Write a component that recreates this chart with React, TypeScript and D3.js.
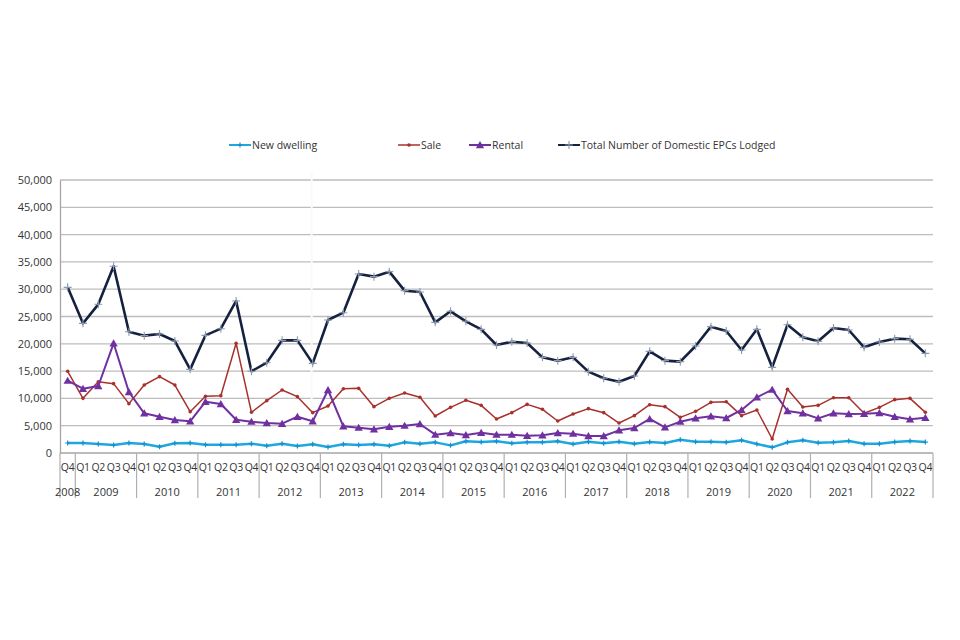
import React, { useEffect, useRef } from 'react';
import * as d3 from 'd3';

// quarters: 2008 Q4 then every quarter 2009-2022
const years = ['2008', '2009', '2010', '2011', '2012', '2013', '2014', '2015', '2016', '2017', '2018', '2019', '2020', '2021', '2022'];
const quarterNames = ['Q1', 'Q2', 'Q3', 'Q4'];
const yTicks = [0, 5000, 10000, 15000, 20000, 25000, 30000, 35000, 40000, 45000, 50000];

const newDwelling = [
  1830,
  1830, 1650, 1470, 1830,
  1650, 1160, 1770, 1830,
  1530, 1530, 1530, 1710,
  1340, 1710, 1280, 1590,
  1100, 1590, 1470, 1590,
  1340, 1950, 1710, 1950,
  1400, 2140, 2010, 2140,
  1770, 1950, 1950, 2140,
  1650, 2080, 1770, 2080,
  1710, 2010, 1830, 2440,
  2080, 2080, 1950, 2320,
  1650, 1040, 1950, 2320,
  1890, 1950, 2200, 1710,
  1710, 2010, 2200, 2010,
];

const sale = [
  14960,
  10010, 13060, 12700, 9040,
  12450, 13980, 12450, 7570,
  10380, 10500, 20090, 7450,
  9590, 11540, 10320, 7390,
  8610, 11780, 11840, 8490,
  10010, 10990, 10200, 6780,
  8360, 9650, 8730, 6230,
  7390, 8910, 8000, 5860,
  7140, 8120, 7390, 5490,
  6840, 8850, 8490, 6530,
  7630, 9280, 9400, 6840,
  7880, 2560, 11660, 8420,
  8730, 10130, 10130, 7270,
  8360, 9770, 10010, 7450,
];

const rental = [
  13250,
  11780, 12270, 20090, 11170,
  7270, 6650, 6040, 5800,
  9400, 8970, 6100, 5740,
  5490, 5370, 6650, 5800,
  11540, 4880, 4640, 4330,
  4820, 5010, 5310, 3360,
  3660, 3300, 3720, 3360,
  3360, 3170, 3240, 3660,
  3540, 3110, 3110, 4150,
  4580, 6230, 4700, 5740,
  6350, 6720, 6410, 7880,
  10200, 11600, 7690, 7270,
  6350, 7270, 7140, 7200,
  7330, 6650, 6170, 6470,
];

const total = [
  30340,
  23750, 27230, 34200, 22220,
  21490, 21800, 20510, 15320,
  21550, 22770, 27840, 14960,
  16540, 20630, 20630, 16420,
  24360, 25700, 32780, 32300,
  33210, 29730, 29490, 23930,
  25950, 24120, 22650, 19780,
  20390, 20150, 17520, 16910,
  17520, 14900, 13680, 13060,
  14100, 18620, 16910, 16730,
  19600, 23140, 22340, 18860,
  22650, 15690, 23500, 21190,
  20450, 22890, 22530, 19350,
  20330, 20940, 20820, 18250,
];

type Marker = 'plus' | 'dot' | 'triangle' | 'cross';

interface Series {
  name: string;
  values: number[];
  color: string;
  width: number;
  marker: Marker;
  markerColor: string;
}

const series: Series[] = [
  { name: 'New dwelling', values: newDwelling, color: '#1ea7e1', width: 2.5, marker: 'plus', markerColor: '#1590c8' },
  { name: 'Sale', values: sale, color: '#a8312c', width: 1.5, marker: 'dot', markerColor: '#a8312c' },
  { name: 'Rental', values: rental, color: '#7030a0', width: 2, marker: 'triangle', markerColor: '#7030a0' },
  { name: 'Total Number of Domestic EPCs Lodged', values: total, color: '#15213f', width: 2.6, marker: 'cross', markerColor: '#8c9ab0' },
];

const FONT = '"Open Sans", Lato, sans-serif';

const App: React.FC = () => {
  const svgRef = useRef<SVGSVGElement>(null);

  useEffect(() => {
    if (!svgRef.current) return;

    const width = 960;
    const height = 640;
    const plot = { left: 60, right: 933, top: 180, bottom: 453 };

    // category list built from years / quarter names
    const cats: { year: string; q: string }[] = [{ year: years[0], q: 'Q4' }];
    years.slice(1).forEach(y => quarterNames.forEach(q => cats.push({ year: y, q })));

    const svg = d3.select(svgRef.current)
      .attr('width', width)
      .attr('height', height)
      .html('');

    svg.append('rect').attr('width', width).attr('height', height).attr('fill', '#fff');

    const x = d3.scaleBand<number>()
      .domain(d3.range(cats.length))
      .range([plot.left, plot.right])
      .padding(0);
    const cx = (i: number) => (x(i) as number) + x.bandwidth() / 2;

    const y = d3.scaleLinear()
      .domain([0, 50000])
      .range([plot.bottom, plot.top]);

    // gridlines
    svg.append('g')
      .selectAll('line')
      .data(yTicks.filter(t => t > 0))
      .join('line')
      .attr('x1', plot.left)
      .attr('x2', plot.right)
      .attr('y1', d => y(d))
      .attr('y2', d => y(d))
      .attr('stroke', '#bdbdbd')
      .attr('stroke-width', 1.3);

    // faint white seam in the original image
    svg.append('line')
      .attr('x1', cx(16) - 1).attr('x2', cx(16) - 1)
      .attr('y1', plot.top - 8).attr('y2', plot.bottom - 45)
      .attr('stroke', '#fafafa').attr('stroke-width', 2);

    // y axis
    const yAxis = d3.axisLeft(y)
      .tickValues(yTicks)
      .tickSize(0)
      .tickPadding(8)
      .tickFormat(d => d3.format(',')(d as number));
    const yg = svg.append('g')
      .attr('transform', `translate(${plot.left},0)`)
      .call(yAxis);
    yg.select('.domain').attr('stroke', '#a6a6a6').attr('stroke-width', 1.3);
    yg.selectAll('text')
      .attr('font-family', FONT)
      .attr('font-size', 11)
      .attr('fill', '#333');

    // x axis (two-level categories)
    const xg = svg.append('g');
    xg.append('line')
      .attr('x1', plot.left).attr('x2', plot.right)
      .attr('y1', plot.bottom).attr('y2', plot.bottom)
      .attr('stroke', '#a6a6a6').attr('stroke-width', 1.3);

    xg.selectAll('text.q')
      .data(cats)
      .join('text')
      .attr('class', 'q')
      .attr('x', (_, i) => cx(i))
      .attr('y', 471)
      .attr('text-anchor', 'middle')
      .attr('font-family', FONT)
      .attr('font-size', 10.5)
      .attr('letter-spacing', -0.3)
      .attr('fill', '#333')
      .text(d => d.q);

    const groups = years.map(yr => {
      const idx = cats.map((c, i) => (c.year === yr ? i : -1)).filter(i => i >= 0);
      return { year: yr, first: idx[0], last: idx[idx.length - 1] };
    });

    // separators between years
    const seps = [plot.left, ...groups.map(g => (x(g.last) as number) + x.bandwidth())];
    xg.selectAll('line.sep')
      .data(seps)
      .join('line')
      .attr('class', 'sep')
      .attr('x1', d => d).attr('x2', d => d)
      .attr('y1', plot.bottom).attr('y2', 498)
      .attr('stroke', '#b0b0b0').attr('stroke-width', 1.2);

    xg.selectAll('text.yr')
      .data(groups)
      .join('text')
      .attr('class', 'yr')
      .attr('x', g => (cx(g.first) + cx(g.last)) / 2)
      .attr('y', 496)
      .attr('text-anchor', 'middle')
      .attr('font-family', FONT)
      .attr('font-size', 11)
      .attr('fill', '#333')
      .text(g => g.year);

    // marker drawing helper
    const drawMarker = (g: d3.Selection<SVGGElement, unknown, null, undefined>, m: Marker, px: number, py: number, color: string) => {
      if (m === 'plus') {
        g.append('path')
          .attr('d', `M${px - 2.5},${py}H${px + 2.5}M${px},${py - 2.5}V${py + 2.5}`)
          .attr('stroke', color).attr('stroke-width', 1.2);
      } else if (m === 'dot') {
        g.append('circle').attr('cx', px).attr('cy', py).attr('r', 1.8).attr('fill', color);
      } else if (m === 'triangle') {
        g.append('path')
          .attr('d', d3.symbol(d3.symbolTriangle, 30)())
          .attr('transform', `translate(${px},${py + 0.8})`)
          .attr('fill', color);
      } else {
        g.append('path')
          .attr('d', `M${px - 4},${py}H${px + 4}M${px},${py - 4}V${py + 4}`)
          .attr('stroke', color).attr('stroke-width', 1.1);
      }
    };

    const line = d3.line<number>()
      .x((_, i) => cx(i))
      .y(d => y(d));

    series.forEach(s => {
      const g = svg.append('g');
      g.append('path')
        .datum(s.values)
        .attr('fill', 'none')
        .attr('stroke', s.color)
        .attr('stroke-width', s.width)
        .attr('stroke-linejoin', 'round')
        .attr('d', line);
      s.values.forEach((v, i) => drawMarker(g as any, s.marker, cx(i), y(v), s.markerColor));
    });

    // legend
    const legendX = [229, 398, 469, 558];
    series.forEach((s, k) => {
      const g = svg.append('g');
      const lx = legendX[k];
      const ly = 145;
      g.append('line')
        .attr('x1', lx).attr('x2', lx + 22)
        .attr('y1', ly).attr('y2', ly)
        .attr('stroke', s.color).attr('stroke-width', Math.min(s.width, 2));
      drawMarker(g as any, s.marker, lx + 11, ly, s.markerColor);
      g.append('text')
        .attr('x', lx + 23)
        .attr('y', ly + 4)
        .attr('font-family', FONT)
        .attr('font-size', 10.5)
        .attr('fill', '#333')
        .text(s.name);
    });
  }, []);

  return (
    <svg ref={svgRef} style={{ position: 'absolute', left: 0, top: 0, display: 'block' }}></svg>
  );
};

export default App;
